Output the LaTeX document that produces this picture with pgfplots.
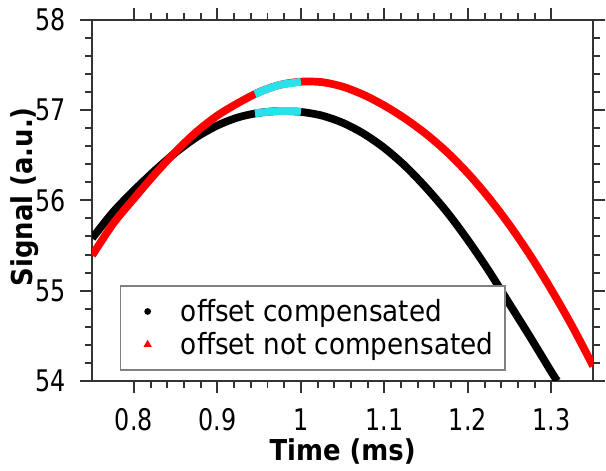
\documentclass[border=0pt]{standalone}
\usepackage{fontspec}
\setmainfont{DejaVu Sans}[FakeStretch=0.9]
\newfontfamily\tickfont{DejaVu Sans}[FakeStretch=0.8]
\usepackage{pgfplots}
\pgfplotsset{compat=1.18}
\definecolor{hilite}{RGB}{40,225,235}

% offset compensated (black)
\pgfplotstableread{
x      y
0.750  55.58
0.775  55.87
0.800  56.11
0.825  56.33
0.850  56.53
0.875  56.70
0.900  56.83
0.925  56.92
0.950  56.97
0.975  56.99
1.000  56.98
1.025  56.94
1.050  56.86
1.075  56.74
1.100  56.58
1.125  56.38
1.150  56.14
1.175  55.87
1.200  55.56
1.225  55.22
1.250  54.85
1.275  54.48
1.300  54.10
1.307  54.00
}\compensated

% offset not compensated (red)
\pgfplotstableread{
x      y
0.750  55.39
0.775  55.74
0.800  56.02
0.825  56.29
0.850  56.54
0.875  56.76
0.900  56.94
0.925  57.08
0.950  57.20
0.975  57.28
1.000  57.315
1.025  57.31
1.050  57.26
1.075  57.17
1.100  57.05
1.125  56.905
1.150  56.735
1.175  56.535
1.200  56.30
1.225  56.03
1.250  55.725
1.275  55.385
1.300  55.01
1.325  54.605
1.350  54.165
}\notcompensated

\begin{document}
\begin{tikzpicture}
\begin{axis}[
  scale only axis, width=252.5pt, height=182pt,
  xmin=0.75, xmax=1.35, ymin=54, ymax=58,
  xtick={0.8,0.9,1.0,1.1,1.2,1.3}, ytick={54,55,56,57,58},
  minor x tick num=4, minor y tick num=4,
  tick align=outside, major tick length=6pt, minor tick length=3.5pt,
  axis line style={black!80, line width=1pt},
  every tick/.style={black!80, line width=1pt},
  /pgf/number format/assume math mode=true,
  tick label style={font=\tickfont\fontsize{15}{18}\selectfont},
  xticklabel style={yshift=-4.5pt},
  yticklabel style={xshift=-4pt},
  xlabel={Time (ms)}, ylabel={Signal (a.u.)},
  xlabel style={at={(axis description cs:0.5,-0.195)}, anchor=center},
  ylabel style={at={(axis description cs:-0.135,0.51)}, anchor=center},
  label style={font=\bfseries\fontsize{14.5}{17}\selectfont},
  legend style={at={(0.055,0.028)}, anchor=south west, draw=gray,
                line width=0.8pt, font=\fontsize{14.7}{18}\selectfont,
                inner xsep=4pt, inner ysep=4.5pt, row sep=0pt,
                legend cell align=left},
]
\addplot[black, line width=3.9pt, smooth,
  legend image code/.code={\path[draw=none] (0,0) -- (0.86cm,0);
    \fill[black, draw=none] (0.34cm,0) circle (1.7pt);}]
  table[x=x, y=y] {\compensated};
\addlegendentry{offset compensated}
\addplot[red, line width=3.9pt, smooth,
  legend image code/.code={\path[draw=none] (0,0) -- (0.86cm,0);
    \fill[red, draw=none] (0.34cm,0) +(90:2.4pt) -- +(210:2.4pt) -- +(330:2.4pt) -- cycle;}]
  table[x=x, y=y] {\notcompensated};
\addlegendentry{offset not compensated}
% highlighted stretch near the maximum
\addplot[hilite, line width=3.9pt, smooth, forget plot]
  coordinates {(0.945,56.965) (0.960,56.98) (0.975,56.99) (0.990,56.99) (1.000,56.98)};
\addplot[hilite, line width=3.9pt, smooth, forget plot]
  coordinates {(0.945,57.18) (0.960,57.235) (0.975,57.28) (0.990,57.30) (1.000,57.315)};
\coordinate (bbsw) at (rel axis cs:-0.184,-0.22);
\coordinate (bbne) at (rel axis cs:1.016,1.055);
\end{axis}
\path (bbsw) rectangle (bbne);
\end{tikzpicture}
\end{document}
